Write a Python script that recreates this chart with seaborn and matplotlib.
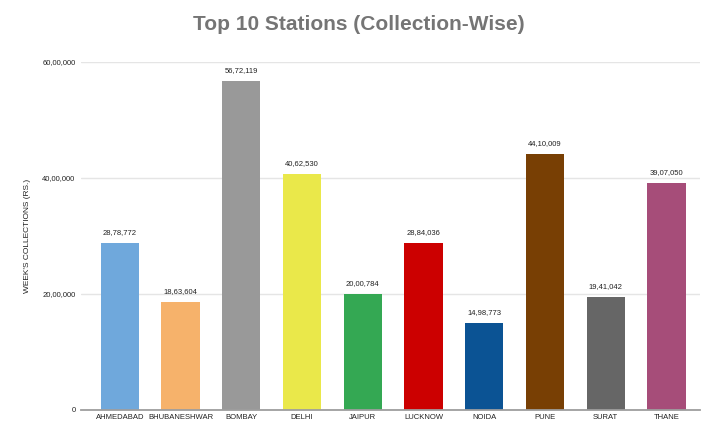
import matplotlib
matplotlib.use("Agg")
import matplotlib.pyplot as plt
import seaborn as sns
import pandas as pd
from matplotlib.ticker import FuncFormatter

stations = ["AHMEDABAD", "BHUBANESHWAR", "BOMBAY", "DELHI", "JAIPUR",
            "LUCKNOW", "NOIDA", "PUNE", "SURAT", "THANE"]
collections = [2878772, 1863604, 5672119, 4062530, 2000784,
               2884036, 1498773, 4410009, 1941042, 3907050]
colors = ["#6fa8dc", "#f6b26b", "#999999", "#eae84a", "#34a853",
          "#cc0000", "#0b5394", "#783f04", "#666666", "#a64d79"]
y_ticks = [0, 2000000, 4000000, 6000000]


def indian(n):
    # Indian digit grouping: 56,72,119
    s = str(int(n))
    if len(s) <= 3:
        return s
    head, tail = s[:-3], s[-3:]
    parts = []
    while len(head) > 2:
        parts.insert(0, head[-2:])
        head = head[:-2]
    if head:
        parts.insert(0, head)
    return ",".join(parts) + "," + tail


df = pd.DataFrame({"station": stations, "value": collections})

sns.set_style("white")
plt.rcParams["font.family"] = ["Liberation Sans", "DejaVu Sans"]

fig = plt.figure(figsize=(7.17, 4.42), dpi=100)
ax = fig.add_axes([0.113, 0.0724, 0.863, 0.7876])

sns.barplot(data=df, x="station", y="value", hue="station", palette=colors,
            legend=False, width=0.63, linewidth=0, saturation=1, ax=ax, zorder=3)

for i, v in enumerate(collections):
    ax.text(i, v + 120000, indian(v), ha="center", va="bottom",
            fontsize=5.5, color="#222222")

ax.set_ylim(0, 6000000)
ax.set_xlim(-0.64, 9.55)
ax.set_yticks(y_ticks)
ax.yaxis.set_major_formatter(FuncFormatter(lambda v, p: indian(v)))
ax.grid(axis="y", color="#e5e5e5", linewidth=1, zorder=0)
ax.tick_params(axis="x", length=0, labelsize=5.5, colors="#222222", pad=3)
ax.tick_params(axis="y", length=0, labelsize=5.5, colors="#222222", pad=4)

for side in ["top", "right", "left"]:
    ax.spines[side].set_visible(False)
ax.spines["bottom"].set_color("#9e9e9e")
ax.spines["bottom"].set_linewidth(1.3)
ax.spines["bottom"].set_zorder(4)

ax.set_xlabel("")
ax.set_ylabel("WEEK'S COLLECTIONS (RS.)", fontsize=6, color="#222222", labelpad=8)

fig.suptitle("Top 10 Stations (Collection-Wise)", x=0.5, y=0.965,
             fontsize=15, fontweight="bold", color="#757575")

plt.savefig("out.png", dpi=100)
